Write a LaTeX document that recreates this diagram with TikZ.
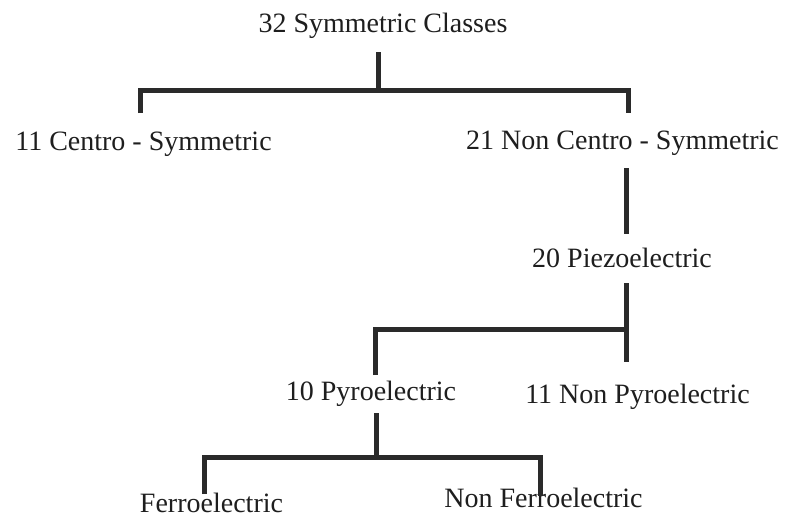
\documentclass[tikz,border=0pt]{standalone}
\usepackage{fontspec}
\setmainfont{Liberation Serif}
\definecolor{txt}{HTML}{1E1E1E}
\definecolor{ln}{HTML}{2A2A2A}
\begin{document}
\begin{tikzpicture}[x=1pt,y=-1pt,
  lbl/.style={anchor=base,inner sep=0pt,text=txt,font=\fontsize{28}{32}\selectfont},
  branch/.style={draw=ln,line width=5pt,line cap=butt,line join=miter}]
\useasboundingbox[fill=white] (0,0) rectangle (786,517);
% labels
\node[lbl] (root)  at (383,32)  {32 Symmetric Classes};
\node[lbl] (cs)    at (143.5,150) {11 Centro - Symmetric};
\node[lbl] (ncs)   at (622.5,149) {21 Non Centro - Symmetric};
\node[lbl] (piezo) at (622,267) {20 Piezoelectric};
\node[lbl] (pyro)  at (371,400) {10 Pyroelectric};
\node[lbl] (npyro) at (637.5,403) {11 Non Pyroelectric};
\node[lbl] (ferro) at (211.5,512) {Ferroelectric};
\node[lbl] (nferro) at (543.5,507) {Non Ferroelectric};
% junction coordinates
\coordinate (rootB) at (378,52);
\coordinate (j1)    at (378,90);
\coordinate (csT)   at (140,113);
\coordinate (ncsT)  at (628,113);
\coordinate (ncsB)  at (626,168);
\coordinate (piezoT) at (626,234);
\coordinate (piezoB) at (626,283);
\coordinate (piezoE) at (626,362);
\coordinate (j2)    at (626,329);
\coordinate (pyroT) at (375,375);
\coordinate (pyroB) at (376,413);
\coordinate (j3)    at (376,457);
\coordinate (ferroT) at (204,494);
\coordinate (nferroT) at (540,496);
% connectors
\draw[branch] (rootB) -- (j1);
\draw[branch] (csT) |- (j1) -| (ncsT);
\draw[branch] (ncsB) -- (piezoT);
\draw[branch] (piezoB) -- (piezoE);
\draw[branch] (pyroT) |- (j2);
\draw[branch] (pyroB) -- (j3);
\draw[branch] (ferroT) |- (j3) -| (nferroT);
\end{tikzpicture}
\end{document}
